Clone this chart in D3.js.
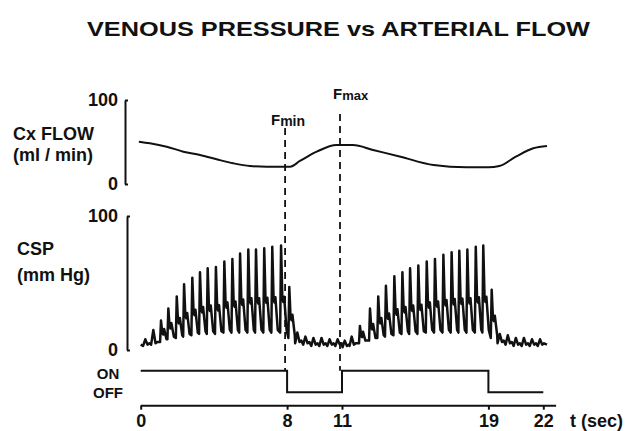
<!DOCTYPE html>
<html>
<head>
<meta charset="utf-8">
<script src="https://cdn.jsdelivr.net/npm/d3@7"></script>
<style>
  html, body { margin: 0; padding: 0; background: #fff; }
  svg { display: block; }
  text { font-family: "Liberation Sans", Arial, Helvetica, sans-serif; font-weight: bold; fill: #111; }
</style>
</head>
<body>
<svg id="chart" width="634" height="431"></svg>
<script>
// ---------------- DATA ----------------
const titleText = "VENOUS PRESSURE vs ARTERIAL FLOW";
const timeTicks = [0, 8, 11, 19, 22];
const flowTicks = [0, 100];
const cspTicks = [0, 100];
const markerTimes = [8, 11];
const markerLabels = [["F", "min"], ["F", "max"]];

// Cx flow (ml/min) vs time (s)
const flowTime = [-0.1, 0.5, 1.42, 2.33, 3.24, 4.15, 5.06, 5.97, 6.9, 8.16, 8.7, 9.62, 10.7, 11.6, 12.7, 14.2, 16.0, 17.8, 19.0, 19.6, 20.5, 21.45, 22.2];
const flowValue = [50.4, 48.5, 44.4, 38.5, 34.5, 29.4, 24.6, 21.4, 20.6, 20.6, 27.4, 38.5, 46.4, 46.4, 40.5, 32.5, 22.6, 19.9, 19.9, 21.4, 32.5, 42.5, 45.2];

// CSP (mmHg): beat times, systolic peaks and diastolic troughs
const beatTime = [0.25, 0.69, 1.11, 1.51, 1.97, 2.37, 2.82, 3.24, 3.66, 4.11, 4.57, 5.01, 5.43, 5.88, 6.30, 6.75, 7.19, 7.67, 8.12,
                  8.56, 9.00, 9.44, 9.88, 10.32, 10.76, 11.15,
                  11.53, 11.98, 12.53, 12.98, 13.40, 13.86, 14.30, 14.72, 15.17, 15.63, 16.08, 16.54, 16.99, 17.41, 17.85, 18.31, 18.72, 19.18,
                  19.62, 20.06, 20.50, 20.94, 21.38, 21.82];
const beatPeak = [8, 15, 22, 31, 40, 49, 54, 58, 61, 62, 66, 68, 72, 75, 75, 76, 77, 78, 47,
                  13, 10, 9, 9, 8, 8, 7,
                  10, 18, 31, 40, 48, 55, 58, 61, 63, 66, 68, 71, 73, 74, 75, 77, 78, 45,
                  12, 11, 9, 9, 8, 8];
const beatTrough = [3, 4, 6, 8, 9, 10, 11, 12, 12, 12, 13, 13, 13, 13, 13, 13, 13, 13, 9,
                    5, 4, 3, 3, 3, 3, 2,
                    3, 5, 7, 9, 10, 11, 12, 12, 12, 13, 13, 13, 13, 13, 13, 13, 13, 9,
                    5, 4, 3, 3, 3, 3];
const cspStart = [0.0, 4];
const cspEnd = [22.2, 4];

// Stimulation ON(1)/OFF(0)
const stimTime = [0, 8, 11, 19, 22];
const stimState = [1, 0, 1, 0, 0];

// ---------------- CHART ----------------
const svg = d3.select("#chart");
const ink = "#111";
const fontFam = "Liberation Sans, Arial, sans-serif";

const x = d3.scaleLinear().domain([0, 22]).range([140.7, 543.3]);
const yFlow = d3.scaleLinear().domain([0, 100]).range([184, 100]);
const yCsp = d3.scaleLinear().domain([0, 100]).range([350, 216]);
const yStim = d3.scaleLinear().domain([0, 1]).range([392.3, 370.7]);

// title
svg.append("text")
  .attr("x", 338.5).attr("y", 36)
  .attr("text-anchor", "middle")
  .attr("font-size", 21)
  .attr("textLength", 503).attr("lengthAdjust", "spacingAndGlyphs")
  .text(titleText);

// ---- flow panel ----
const gFlowAxis = svg.append("g").attr("transform", "translate(125,0)")
  .call(d3.axisLeft(yFlow).tickValues(flowTicks).tickSize(-3).tickSizeOuter(0).tickPadding(7).tickFormat(d3.format("d")));
gFlowAxis.selectAll("text").attr("font-size", 18).style("font-family", fontFam).style("font-weight", "bold").attr("fill", ink);
gFlowAxis.selectAll("path,line").attr("stroke", ink).attr("stroke-width", 2);

svg.append("text").attr("x", 13).attr("y", 140).attr("font-size", 18).text("Cx FLOW");
svg.append("text").attr("x", 13).attr("y", 161).attr("font-size", 18).text("(ml / min)");

const flowLine = d3.line().x(d => x(d[0])).y(d => yFlow(d[1])).curve(d3.curveMonotoneX);
svg.append("path")
  .datum(flowTime.map((t, i) => [t, flowValue[i]]))
  .attr("d", flowLine).attr("fill", "none").attr("stroke", ink).attr("stroke-width", 2);

// ---- CSP panel ----
const gCspAxis = svg.append("g").attr("transform", "translate(127,0)")
  .call(d3.axisLeft(yCsp).tickValues(cspTicks).tickSize(-3).tickSizeOuter(0).tickPadding(9).tickFormat(d3.format("d")));
gCspAxis.selectAll("text").attr("font-size", 18).style("font-family", fontFam).style("font-weight", "bold").attr("fill", ink);
gCspAxis.selectAll("path,line").attr("stroke", ink).attr("stroke-width", 2);

svg.append("text").attr("x", 17).attr("y", 255).attr("font-size", 18).text("CSP");
svg.append("text").attr("x", 17).attr("y", 281).attr("font-size", 18).text("(mm Hg)");

// build pressure trace from beats (shape template applied to each beat)
const cspPts = [cspStart];
beatTime.forEach((t, i) => {
  const pk = beatPeak[i], tr = beatTrough[i];
  const amp = pk - tr;
  if (amp > 12) {
    cspPts.push([t - 0.05, tr]);
    cspPts.push([t, pk]);
    cspPts.push([t + 0.07, tr + 0.4 * amp]);
    cspPts.push([t + 0.12, tr + 0.35 * amp]);
    cspPts.push([t + 0.17, tr + 0.35 * amp + 4]);
    cspPts.push([t + 0.3, tr + 2]);
  } else {
    cspPts.push([t - 0.12, tr]);
    cspPts.push([t, pk]);
    cspPts.push([t + 0.12, tr + 1]);
    cspPts.push([t + 0.22, tr + 2]);
  }
});
cspPts.push(cspEnd);
const cspLine = d3.line().x(d => x(d[0])).y(d => yCsp(d[1]));
svg.append("path").datum(cspPts)
  .attr("d", cspLine).attr("fill", "none").attr("stroke", ink).attr("stroke-width", 2.5).attr("stroke-linejoin", "round");

// ---- markers (dashed lines) ----
const markerTop = [128, 114];
markerTimes.forEach((t, i) => {
  svg.append("line")
    .attr("x1", x(t) - 2).attr("x2", x(t) - 2)
    .attr("y1", markerTop[i]).attr("y2", yStim(1))
    .attr("stroke", ink).attr("stroke-width", 1.8).attr("stroke-dasharray", "7,5");
});
const lab0 = svg.append("text").attr("x", 271).attr("y", 125);
lab0.append("tspan").attr("font-size", 15).text(markerLabels[0][0]);
lab0.append("tspan").attr("font-size", 14).attr("dy", 1).text(markerLabels[0][1]);
const lab1 = svg.append("text").attr("x", 333).attr("y", 99);
lab1.append("tspan").attr("font-size", 15).text(markerLabels[1][0]);
lab1.append("tspan").attr("font-size", 13).attr("dy", 1).text(markerLabels[1][1]);

// ---- stimulation trace ----
const stimLine = d3.line().x(d => x(d[0])).y(d => yStim(d[1])).curve(d3.curveStepAfter);
svg.append("path").datum(stimTime.map((t, i) => [t, stimState[i]]))
  .attr("d", stimLine).attr("fill", "none").attr("stroke", ink).attr("stroke-width", 2);
svg.append("text").attr("x", 108).attr("y", 379).attr("text-anchor", "middle").attr("font-size", 15).text("ON");
svg.append("text").attr("x", 108).attr("y", 398).attr("text-anchor", "middle").attr("font-size", 15).text("OFF");

// ---- time axis ----
const gX = svg.append("g").attr("transform", "translate(0,405.7)")
  .call(d3.axisBottom(x).tickValues(timeTicks).tickSize(4).tickSizeOuter(0).tickPadding(5).tickFormat(d3.format("d")));
gX.select(".domain").remove();
gX.selectAll("line").attr("stroke", ink).attr("stroke-width", 2);
gX.selectAll("text").attr("font-size", 18).style("font-family", fontFam).style("font-weight", "bold").attr("fill", ink);
gX.append("line").attr("x1", x(0)).attr("x2", x(22.7)).attr("y1", 0).attr("y2", 0)
  .attr("stroke", ink).attr("stroke-width", 2);
svg.append("text").attr("x", 570).attr("y", 427).attr("font-size", 18).text("t (sec)");
</script>
</body>
</html>
